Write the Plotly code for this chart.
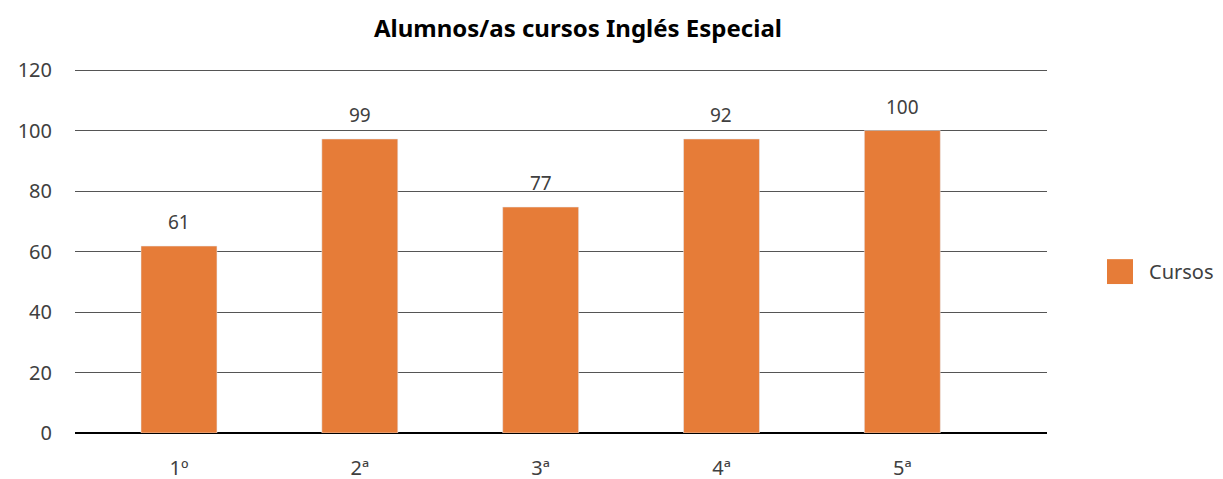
import plotly.graph_objects as go

# datos
cursos = ["1º", "2ª", "3ª", "4ª", "5ª"]
alturas = [61.8, 97.2, 74.7, 97.2, 100]
etiquetas = ["61", "99", "77", "92", "100"]
serie = "Cursos"

naranja = "#E67C38"
gris = "#404040"
fuente = "Noto Sans"

fig = go.Figure()
fig.add_trace(go.Bar(
    x=cursos, y=alturas, name=serie, marker_color=naranja,
    width=0.42, showlegend=False,
))

# etiquetas sobre las barras
for c, h, t in zip(cursos, alturas, etiquetas):
    fig.add_annotation(x=c, y=h, text=t, showarrow=False, yshift=24,
                       yanchor="middle", font=dict(size=19, color=gris, family=fuente))

# leyenda dibujada a mano (cuadrado grande como en el original)
fig.add_shape(type="rect", xref="paper", yref="paper", x0=1.0617, x1=1.0885,
              y0=0.407, y1=0.475, fillcolor=naranja, line_width=0)
fig.add_annotation(xref="paper", yref="paper", x=1.103, y=0.44, text=serie,
                   showarrow=False, xanchor="left", yanchor="middle",
                   font=dict(size=20, color=gris, family=fuente))

# el cuerpo de la página añade 8 px de margen: se compensa en los márgenes
fig.update_layout(
    width=1223, height=479,
    paper_bgcolor="white", plot_bgcolor="white",
    margin=dict(l=67, r=184, t=59, b=54),
    title=dict(text="<b>Alumnos/as cursos Inglés Especial</b>", x=0.466, xanchor="center",
               y=0.958, yanchor="middle", font=dict(size=24, color="black", family=fuente)),
    font=dict(family=fuente, color=gris, size=19),
    xaxis=dict(range=[-0.575, 4.8], showgrid=False, ticks="", tickfont=dict(size=20, color=gris),
               showline=False, zeroline=False, automargin=False, ticklabelstandoff=21),
    yaxis=dict(range=[0, 121], tickvals=[0, 20, 40, 60, 80, 100, 120], showgrid=True,
               gridcolor="#555555", gridwidth=1,
               zeroline=True, zerolinecolor="black", zerolinewidth=1.5,
               tickfont=dict(size=20, color=gris), ticks="", automargin=False,
               ticklabelstandoff=22),
    showlegend=False,
)

fig.write_html("out.html")
